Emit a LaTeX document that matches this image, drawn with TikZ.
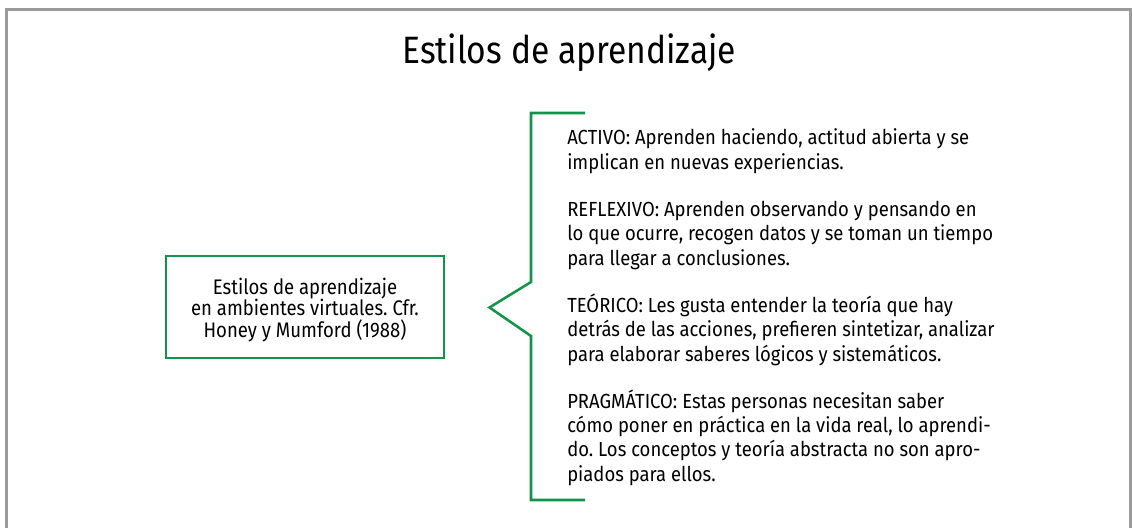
\documentclass[tikz,border=0pt]{standalone}
\usepackage{fontspec}
\setmainfont{Fira Sans}[FakeStretch=0.88]
\newfontfamily\parafont{Fira Sans}[FakeStretch=0.905]
\definecolor{framegray}{HTML}{9B9B9F}
\definecolor{bracegreen}{HTML}{12934A}
\frenchspacing
\begin{document}
\begin{tikzpicture}[x=0.75pt,y=-0.75pt,
  frameline/.style={draw=framegray,line width=2.4pt},
  greenline/.style={draw=bracegreen,line width=1.9pt},
  srcbox/.style={greenline,minimum width=208.5pt,minimum height=76.5pt,inner sep=0pt},
  srctext/.style={inner sep=0pt,align=center,font=\fontsize{15.8pt}{15.8pt}\selectfont},
  para/.style={anchor=base west,inner sep=0pt,align=left,font=\parafont\fontsize{15.3pt}{18.1pt}\selectfont},
  titletext/.style={anchor=base,inner sep=0pt,font=\fontsize{28.6pt}{30pt}\selectfont}]
\useasboundingbox (0,0) rectangle (1132,528);
\fill[white] (0,0) rectangle (1132,528);
% frame (open at the bottom)
\draw[frameline] (6.5,540) -- (6.5,9.5) -- (1130.8,9.5) -- (1130.8,540);
% title
\node[titletext] (title) at (569,64) {Estilos de aprendizaje};
% source box
\node[srcbox] (src) at (305,307) {};
\node[srctext] (srclabel) at (305,310) {Estilos de aprendizaje\\en ambientes virtuales. Cfr.\\Honey y Mumford (1988)};
% bracket
\coordinate (btop) at (585,113);
\coordinate (bbot) at (585,500);
\coordinate (tip) at (489.5,307.5);
\draw[greenline] (btop) -- (531,113) -- (531,282) -- (tip) -- (531,336) -- (531,500) -- (bbot);
% paragraphs (anchored at the baseline of their last line)
\node[para] (activo) at (567,169) {ACTIVO: Aprenden haciendo, actitud abierta y se\\implican en nuevas experiencias.};
\node[para] (reflexivo) at (567,265) {REFLEXIVO: Aprenden observando y pensando en\\lo que ocurre, recogen datos y se toman un tiempo\\para llegar a conclusiones.};
\node[para] (teorico) at (567,361) {TEÓRICO: Les gusta entender la teoría que hay\\detrás de las acciones, prefieren sintetizar, analizar\\para elaborar saberes lógicos y sistemáticos.};
\node[para] (pragmatico) at (567,481) {PRAGMÁTICO: Estas personas necesitan saber\\cómo poner en práctica en la vida real, lo aprendi-\\do. Los conceptos y teoría abstracta no son apro-\\piados para ellos.};
\end{tikzpicture}
\end{document}
